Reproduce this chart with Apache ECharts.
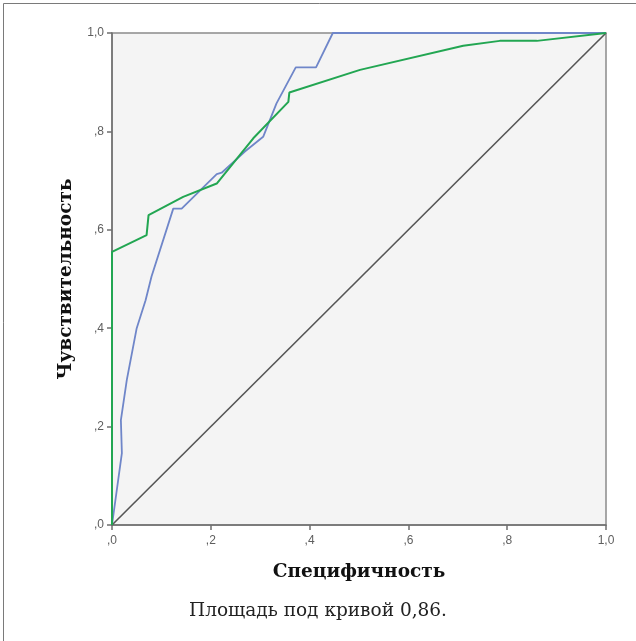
<!DOCTYPE html>
<html>
<head>
<meta charset="utf-8">
<script src="https://cdn.jsdelivr.net/npm/echarts@6/dist/echarts.min.js"></script>
<style>
  html, body { margin: 0; padding: 0; background: #fff; }
  #chart { width: 636px; height: 641px; }
</style>
</head>
<body>
<div id="chart"></div>
<script>
'use strict';

// ROC curves: x = 1 - specificity, y = sensitivity
var blueX = [0, 0.020, 0.018, 0.030, 0.050, 0.068, 0.080, 0.124, 0.141, 0.212, 0.222, 0.269, 0.306, 0.333, 0.372, 0.413, 0.447, 1.0];
var blueY = [0, 0.146, 0.213, 0.295, 0.400, 0.457, 0.505, 0.643, 0.643, 0.713, 0.716, 0.759, 0.789, 0.857, 0.930, 0.930, 1.0, 1.0];

var greenX = [0, 0, 0.070, 0.074, 0.144, 0.212, 0.286, 0.357, 0.359, 0.502, 0.711, 0.785, 0.860, 1.0];
var greenY = [0, 0.555, 0.589, 0.630, 0.667, 0.694, 0.786, 0.860, 0.879, 0.925, 0.974, 0.984, 0.984, 1.0];

var diagX = [0, 1];
var diagY = [0, 1];

var tickValues = [0, 0.2, 0.4, 0.6, 0.8, 1.0];
var tickLabels = [',0', ',2', ',4', ',6', ',8', '1,0'];

var xName = 'Специфичность';
var yName = 'Чувствительность';
var caption = 'Площадь под кривой 0,86.';

function pairs(xs, ys) {
    return xs.map(function (x, i) { return [x, ys[i]]; });
}

function tickFmt(v) {
    for (var i = 0; i < tickValues.length; i++) {
        if (Math.abs(v - tickValues[i]) < 1e-6) return tickLabels[i];
    }
    return '';
}

var axisCommon = {
    type: 'value',
    min: 0,
    max: 1,
    interval: 0.2,
    splitLine: { show: false },
    axisLine: { show: true, lineStyle: { color: '#6f6f6f', width: 1.5 } },
    axisTick: { show: true, length: 5, lineStyle: { color: '#6f6f6f', width: 1.5 } },
    axisLabel: {
        color: '#5e5e5e',
        fontFamily: 'Arial, "Liberation Sans", sans-serif',
        fontSize: 12,
        formatter: tickFmt
    },
    nameLocation: 'middle',
    nameTextStyle: {
        color: '#111',
        fontFamily: '"DejaVu Serif", serif',
        fontWeight: 'bold',
        fontSize: 18.5
    }
};

var chart = echarts.init(document.getElementById('chart'));

chart.setOption({
    animation: false,
    backgroundColor: '#fff',
    grid: {
        left: 112,
        right: 30,
        top: 33,
        bottom: 116,
        show: true,
        backgroundColor: '#f4f4f4',
        borderColor: '#8a8a8a',
        borderWidth: 1.5
    },
    xAxis: Object.assign({}, axisCommon, {
        name: xName,
        nameGap: 38,
        axisLabel: Object.assign({}, axisCommon.axisLabel, { margin: 10 })
    }),
    yAxis: Object.assign({}, axisCommon, {
        name: yName,
        nameGap: 36,
        axisLabel: Object.assign({}, axisCommon.axisLabel, { margin: 8 })
    }),
    graphic: [
        {
            type: 'polyline',
            shape: { points: [[3.5, 641], [3.5, 3.5], [636, 3.5]] },
            style: { stroke: '#7a7a7a', lineWidth: 1, fill: null },
            silent: true
        },
        {
            type: 'text',
            left: 'center',
            top: 602,
            style: {
                text: caption,
                fill: '#222',
                font: '18.5px "DejaVu Serif", serif'
            },
            silent: true
        }
    ],
    series: [
        {
            type: 'line',
            data: pairs(diagX, diagY),
            symbol: 'none',
            lineStyle: { color: '#555', width: 1.6 },
            z: 2
        },
        {
            type: 'line',
            data: pairs(blueX, blueY),
            symbol: 'none',
            lineStyle: { color: '#6f86c9', width: 1.8 },
            z: 3
        },
        {
            type: 'line',
            data: pairs(greenX, greenY),
            symbol: 'none',
            lineStyle: { color: '#22a652', width: 2 },
            z: 4
        }
    ]
});
</script>
</body>
</html>
